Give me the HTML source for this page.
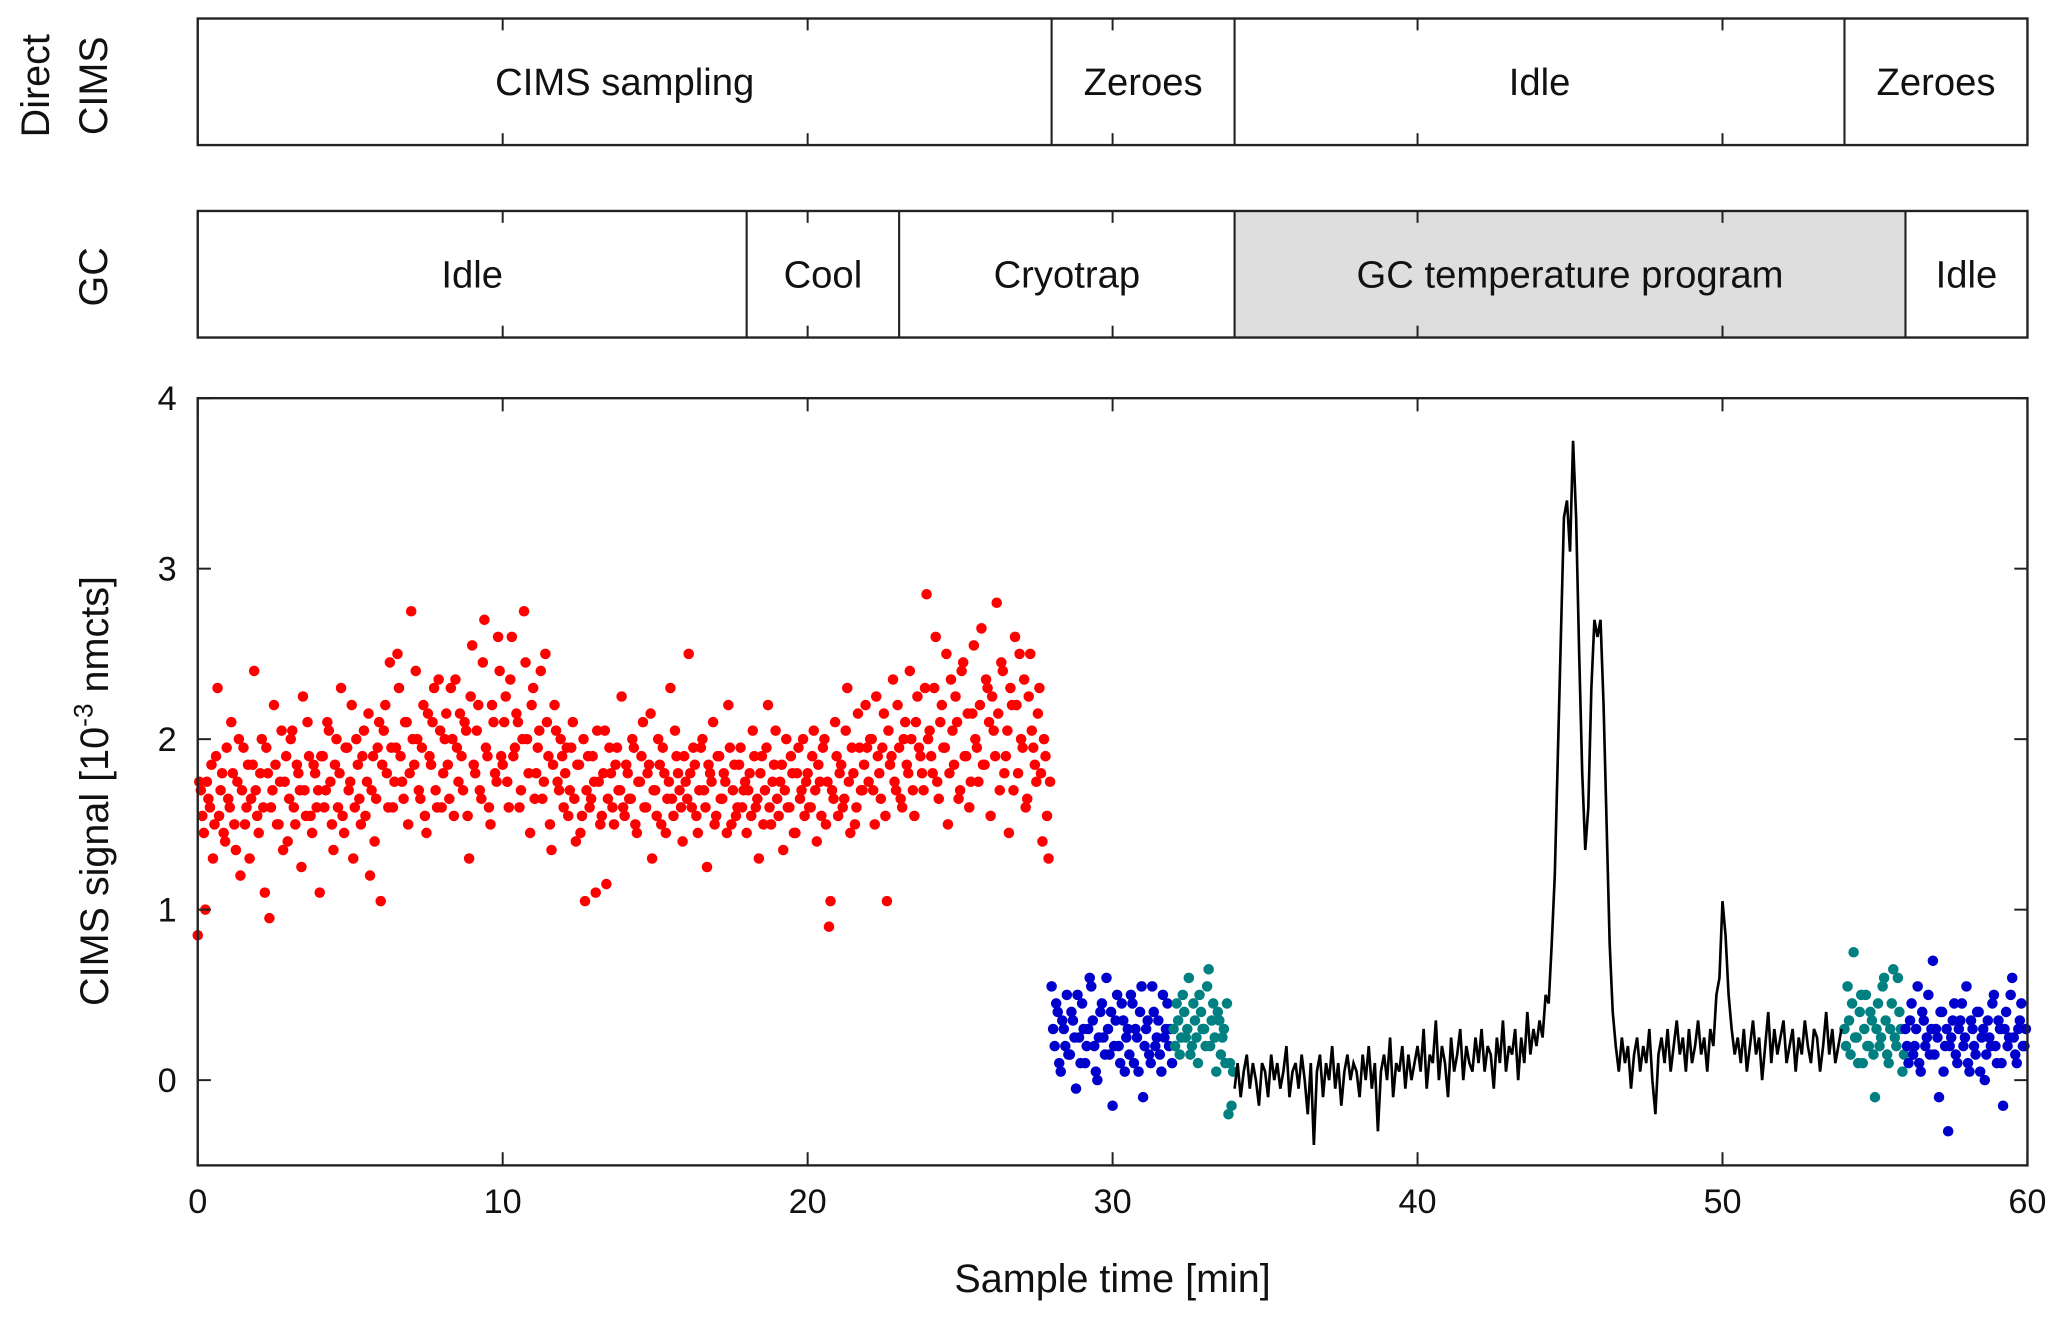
<!DOCTYPE html>
<html><head><meta charset="utf-8"><style>
html,body{margin:0;padding:0;background:#fff}
svg{display:block}
text{font-family:"Liberation Sans",Arial,sans-serif;fill:#111}
</style></head><body>
<svg id="chart" width="2067" height="1321" viewBox="0 0 1568 1002" xmlns="http://www.w3.org/2000/svg">
<g id="panels"></g>
<g id="plot"></g>
</svg>
<script>
// ---- timeline data ----
const cimsPhases = ["CIMS sampling","Zeroes","Idle","Zeroes"];
const cimsBounds = [0,28,34,54,60];
const gcPhases = ["Idle","Cool","Cryotrap","GC temperature program","Idle"];
const gcBounds = [0,18,23,34,56,60];
const gcShaded = [false,false,false,true,false];
// ---- axis ticks ----
const xTicks = [0,10,20,30,40,50,60];
const yTicks = [0,1,2,3,4];
// ---- series ----
const redStart = 0, redStep = 0.1;
const redValues = [
0.85,1.7,1.45,1.75,1.6,1.3,1.9,1.55,1.8,1.4,1.65,2.1,1.5,1.75,1.2,1.95,1.6,1.3,1.85,1.7,
1.45,2.0,1.1,1.8,1.6,2.2,1.5,1.75,1.35,1.9,1.65,2.05,1.5,1.8,1.25,1.7,2.1,1.55,1.85,1.6,
1.1,1.9,1.7,2.05,1.5,1.85,1.6,2.3,1.45,1.95,1.75,1.3,2.0,1.65,1.9,1.55,2.15,1.7,1.4,1.95,
1.05,2.05,1.8,2.45,1.6,1.95,2.3,1.75,2.1,1.5,2.75,1.85,2.0,1.65,2.2,1.45,1.9,2.1,1.7,2.35,
1.6,2.0,1.85,2.3,1.55,1.95,2.15,1.7,2.05,1.3,2.55,1.8,2.2,1.65,2.7,1.9,1.5,2.1,1.75,2.4,
1.85,2.25,1.6,2.6,1.95,2.1,1.7,2.75,2.0,1.45,2.3,1.8,2.05,1.65,2.5,1.9,1.35,2.2,1.75,2.0,
1.6,1.95,1.7,2.1,1.4,1.85,1.55,1.05,1.9,1.65,1.75,2.05,1.5,1.8,1.15,1.95,1.6,1.85,1.7,2.25,
1.55,1.8,1.65,1.95,1.45,1.75,2.1,1.6,1.85,1.3,1.7,2.0,1.5,1.8,1.65,2.3,1.55,1.9,1.7,1.4,
1.75,2.5,1.6,1.85,1.45,1.95,1.7,1.25,1.8,2.1,1.55,1.9,1.65,1.75,2.2,1.5,1.85,1.6,1.95,1.7,
1.45,1.8,2.05,1.6,1.3,1.9,1.7,2.2,1.5,1.85,1.65,1.75,1.35,2.0,1.6,1.8,1.45,1.95,1.7,1.55,
1.8,1.6,2.05,1.4,1.75,1.95,1.5,0.9,1.7,2.1,1.55,1.85,1.65,2.3,1.45,1.8,1.6,1.95,1.7,2.2,
1.75,2.0,1.5,1.9,1.65,2.15,1.05,1.85,2.35,1.7,1.95,1.6,2.1,1.8,2.0,1.55,2.25,1.9,1.7,2.85,
2.05,1.8,2.6,1.65,2.2,1.95,1.5,2.35,1.85,2.1,1.7,2.45,1.9,1.6,2.15,2.0,1.75,2.65,1.85,2.3,
1.55,2.05,2.8,1.7,2.4,1.9,1.45,2.2,2.6,1.8,2.0,2.35,1.65,2.5,1.95,1.75,2.3,1.4,1.9,1.3];
const redBStart = 0.05, redBStep = 0.1;
const redBValues = [
1.75,1.55,1.0,1.65,1.85,1.5,2.3,1.7,1.45,1.95,1.6,1.8,1.35,2.0,1.7,1.5,1.85,1.65,2.4,1.55,
1.8,1.6,1.95,0.95,1.7,1.85,1.5,2.05,1.75,1.4,2.0,1.6,1.85,1.7,2.25,1.55,1.9,1.45,1.8,1.7,
1.9,1.6,2.1,1.75,1.35,2.0,1.8,1.55,1.95,1.7,2.2,1.6,1.85,1.5,2.05,1.75,1.2,1.9,1.65,2.1,
1.85,2.2,1.6,1.95,1.75,2.5,1.9,1.65,2.1,1.8,2.0,2.4,1.7,1.95,1.55,2.15,1.85,2.3,1.6,2.05,
1.8,2.15,1.65,2.0,2.35,1.75,1.9,2.1,1.55,2.25,1.85,2.05,1.7,2.45,1.95,1.6,2.2,1.8,2.6,1.9,
2.1,1.75,2.35,1.9,2.15,1.6,2.0,2.45,1.8,2.2,1.65,1.95,2.4,1.75,2.1,1.5,1.85,2.05,1.7,1.9,
1.8,1.55,1.95,1.65,1.85,1.45,2.0,1.7,1.6,1.9,1.1,1.75,1.55,2.05,1.65,1.8,1.5,1.95,1.7,1.6,
1.85,1.65,2.0,1.5,1.75,1.9,1.6,1.8,2.15,1.7,1.55,1.85,1.95,1.45,1.75,1.65,2.05,1.8,1.6,1.9,
1.65,1.8,1.95,1.55,1.7,2.0,1.6,1.85,1.75,1.5,1.9,1.65,1.8,1.45,1.95,1.7,1.55,1.85,1.6,1.75,
1.7,1.55,1.9,1.65,1.8,1.5,1.95,1.6,1.75,2.05,1.55,1.85,1.7,1.6,1.9,1.45,1.8,1.65,2.0,1.75,
1.6,1.9,1.7,1.85,1.55,2.0,1.75,1.05,1.65,1.9,1.8,1.6,2.05,1.75,1.95,1.5,2.15,1.7,1.85,1.95,
2.0,1.7,2.25,1.8,1.95,1.55,2.05,1.9,1.75,2.2,1.65,2.0,1.85,2.4,1.7,2.1,1.95,1.8,2.3,2.0,
1.9,2.3,1.75,2.1,1.95,2.5,1.8,2.05,2.25,1.65,2.4,1.9,2.15,1.75,2.55,1.95,2.2,1.85,2.35,2.1,
2.25,1.9,2.15,2.45,1.8,2.05,2.3,1.7,2.2,2.5,1.95,1.6,2.25,2.05,1.85,2.15,1.8,2.0,1.55,1.75];
const blue1Start = 28, blue1Step = 0.1;
const blue1Values = [0.55,0.2,0.4,0.05,0.3,0.5,0.15,0.35,-0.05,0.25,0.45,0.1,0.3,0.55,0.2,0.0,0.4,0.25,0.6,0.15,-0.15,0.35,0.2,0.45,0.05,0.3,0.5,0.1,0.25,0.4,-0.1,0.3,0.15,0.55,0.2,0.35,0.05,0.25,0.45,0.3];
const blue1BStart = 28.05, blue1BStep = 0.1;
const blue1BValues = [0.3,0.45,0.1,0.35,0.2,0.15,0.4,0.25,0.5,0.1,0.3,0.2,0.6,0.35,0.05,0.25,0.45,0.15,0.3,0.4,0.2,0.5,0.1,0.35,0.25,0.15,0.45,0.3,0.05,0.55,0.2,0.35,0.1,0.4,0.25,0.15,0.5,0.3,0.2,0.1];
const teal1Start = 32, teal1Step = 0.1;
const teal1Values = [0.3,0.45,0.15,0.5,0.25,0.6,0.2,0.35,0.1,0.4,0.3,0.55,0.2,0.45,0.05,0.35,0.25,0.1,-0.2,-0.15];
const teal1BStart = 32.05, teal1BStep = 0.1;
const teal1BValues = [0.2,0.35,0.25,0.4,0.3,0.15,0.45,0.25,0.5,0.3,0.2,0.65,0.35,0.25,0.4,0.15,0.3,0.45,0.1,0.05];
const lineStart = 34, lineStep = 0.1;
const lineValues = [
-0.05,0.1,-0.1,0.05,0.15,-0.05,0.1,0.0,-0.15,0.1,0.05,-0.1,0.15,0.0,0.1,-0.05,0.05,0.2,-0.1,0.05,
0.1,-0.05,0.15,0.0,-0.2,0.1,-0.38,0.05,0.15,-0.1,0.1,0.0,0.2,-0.05,0.1,-0.15,0.05,0.15,0.0,0.1,
0.05,-0.1,0.15,0.0,0.2,-0.05,0.1,-0.3,0.05,0.15,0.0,0.25,-0.1,0.1,0.05,0.2,-0.05,0.15,0.0,0.1,
0.2,0.05,0.3,-0.05,0.15,0.1,0.35,0.0,0.2,0.1,-0.1,0.25,0.05,0.15,0.3,0.0,0.2,0.1,0.05,0.25,
0.1,0.3,0.05,0.2,0.15,-0.05,0.25,0.1,0.35,0.05,0.2,0.15,0.3,0.0,0.25,0.1,0.4,0.15,0.3,0.2,
0.35,0.25,0.5,0.45,0.8,1.2,1.9,2.6,3.3,3.4,3.1,3.75,3.3,2.5,1.8,1.35,1.6,2.3,2.7,2.6,
2.7,2.2,1.5,0.8,0.4,0.2,0.05,0.25,0.1,0.2,-0.05,0.15,0.25,0.05,0.2,0.1,0.3,0.0,-0.2,0.15,
0.25,0.1,0.3,0.05,0.2,0.35,0.15,0.25,0.05,0.3,0.1,0.2,0.35,0.15,0.25,0.05,0.3,0.2,0.5,0.6,
1.05,0.85,0.5,0.3,0.15,0.25,0.1,0.3,0.05,0.2,0.35,0.15,0.25,0.0,0.2,0.4,0.1,0.3,0.15,0.25,
0.35,0.1,0.2,0.3,0.05,0.25,0.15,0.35,0.2,0.1,0.3,0.25,0.05,0.2,0.4,0.15,0.3,0.1,0.2,0.3];
const teal2Start = 54, teal2Step = 0.1;
const teal2Values = [0.3,0.55,0.15,0.75,0.25,0.4,0.1,0.5,0.2,0.35,-0.1,0.45,0.25,0.6,0.15,0.3,0.65,0.2,0.4,0.05];
const teal2BStart = 54.05, teal2BStep = 0.1;
const teal2BValues = [0.2,0.35,0.45,0.25,0.1,0.5,0.3,0.2,0.4,0.15,0.3,0.2,0.55,0.35,0.1,0.45,0.25,0.6,0.3,0.15];
const blue2Start = 56, blue2Step = 0.1;
const blue2Values = [0.3,0.1,0.45,0.2,0.55,0.05,0.35,0.25,0.15,0.7,0.3,-0.1,0.4,0.2,-0.3,0.25,0.45,0.1,0.35,0.2,0.55,0.05,0.3,0.15,0.4,0.25,0.0,0.35,0.2,0.5,0.1,0.3,-0.15,0.4,0.25,0.6,0.15,0.3,0.45,0.2];
const blue2BStart = 56.05, blue2BStep = 0.1;
const blue2BValues = [0.2,0.35,0.15,0.3,0.1,0.4,0.2,0.5,0.3,0.15,0.25,0.4,0.05,0.3,0.2,0.35,0.15,0.3,0.45,0.25,0.1,0.35,0.2,0.4,0.05,0.3,0.15,0.25,0.45,0.2,0.35,0.1,0.3,0.2,0.5,0.25,0.1,0.35,0.2,0.3];

const NS="http://www.w3.org/2000/svg";
const L=150,R=1538,T=302,B=884;
const xMin=0,xMax=60,yMin=-0.5,yMax=4;
const X=v=>L+(v-xMin)/(xMax-xMin)*(R-L);
const Y=v=>B-(v-yMin)/(yMax-yMin)*(B-T);
function mk(tag,attrs,parent){const e=document.createElementNS(NS,tag);for(const k in attrs)e.setAttribute(k,attrs[k]);parent.appendChild(e);return e;}
const panels=document.getElementById('panels');
const plot=document.getElementById('plot');

function drawPanel(bounds,phases,shaded,top,bot,name){
  const g=mk('g',{},panels);
  
  
  for(let i=0;i<phases.length;i++){
    const x0=X(bounds[i]),x1=X(bounds[i+1]);
    const r=mk('rect',{x:x0,y:top,width:x1-x0,height:bot-top,fill:(shaded&&shaded[i])?'#dedede':'#fff',stroke:'none'},g);
    
    
    const t=mk('text',{x:(x0+x1)/2,y:(top+bot)/2+10,'text-anchor':'middle','font-size':29},g);
    t.textContent=phases[i];
    
    
  }
  xTicks.forEach(v=>{if(v>xMin&&v<xMax){mk('line',{x1:X(v),x2:X(v),y1:top,y2:top+9,stroke:'#222','stroke-width':1.5},g);mk('line',{x1:X(v),x2:X(v),y1:bot,y2:bot-9,stroke:'#222','stroke-width':1.5},g);}});
  for(let i=1;i<bounds.length-1;i++) mk('line',{x1:X(bounds[i]),x2:X(bounds[i]),y1:top,y2:bot,stroke:'#222','stroke-width':1.6},g);
  mk('rect',{x:L,y:top,width:R-L,height:bot-top,fill:'none',stroke:'#222','stroke-width':1.8},g);
}
drawPanel(cimsBounds,cimsPhases,null,14,110,'direct-cims-panel');
drawPanel(gcBounds,gcPhases,gcShaded,160,256,'gc-panel');

let t=mk('text',{transform:'translate(37,65) rotate(-90)','text-anchor':'middle','font-size':30},panels);t.textContent='Direct';

t=mk('text',{transform:'translate(81,65) rotate(-90)','text-anchor':'middle','font-size':30},panels);t.textContent='CIMS';

t=mk('text',{transform:'translate(81,210) rotate(-90)','text-anchor':'middle','font-size':30},panels);t.textContent='GC';


// series
function scatter(start,step,vals,color,name){
  const g=mk('g',{fill:color},plot);
  
  
  vals.forEach((v,i)=>{const c=mk('circle',{cx:X(start+i*step),cy:Y(v),r:4},g);
    
    });
}
scatter(redStart,redStep,redValues,'#ff0000','red-sampling-series');
scatter(redBStart,redBStep,redBValues,'#ff0000','red-sampling-series-b');
scatter(blue1Start,blue1Step,blue1Values,'#0000cc','blue-zero-series-1');
scatter(blue1BStart,blue1BStep,blue1BValues,'#0000cc','blue-zero-series-1b');
scatter(teal1Start,teal1Step,teal1Values,'#008080','teal-zero-series-1');
scatter(teal1BStart,teal1BStep,teal1BValues,'#008080','teal-zero-series-1b');
scatter(teal2Start,teal2Step,teal2Values,'#008080','teal-zero-series-2');
scatter(teal2BStart,teal2BStep,teal2BValues,'#008080','teal-zero-series-2b');
scatter(blue2Start,blue2Step,blue2Values,'#0000cc','blue-zero-series-2');
scatter(blue2BStart,blue2BStep,blue2BValues,'#0000cc','blue-zero-series-2b');
const pth=mk('polyline',{points:lineValues.map((v,i)=>X(lineStart+i*lineStep)+','+Y(v)).join(' '),fill:'none',stroke:'#000','stroke-width':2},plot);



// axes
const ax=mk('rect',{x:L,y:T,width:R-L,height:B-T,fill:'none',stroke:'#222','stroke-width':1.8},plot);

xTicks.forEach(v=>{
  mk('line',{x1:X(v),x2:X(v),y1:B,y2:B-10,stroke:'#222','stroke-width':1.5},plot);
  mk('line',{x1:X(v),x2:X(v),y1:T,y2:T+10,stroke:'#222','stroke-width':1.5},plot);
  const tx=mk('text',{x:X(v),y:B+36,'text-anchor':'middle','font-size':26},plot);tx.textContent=v;
  
});
yTicks.forEach(v=>{
  mk('line',{x1:L,x2:L+10,y1:Y(v),y2:Y(v),stroke:'#222','stroke-width':1.5},plot);
  mk('line',{x1:R,x2:R-10,y1:Y(v),y2:Y(v),stroke:'#222','stroke-width':1.5},plot);
  const ty=mk('text',{x:L-16,y:Y(v)+9,'text-anchor':'end','font-size':26},plot);ty.textContent=v;
  
});
const xl=mk('text',{x:(L+R)/2,y:980,'text-anchor':'middle','font-size':30},plot);xl.textContent='Sample time [min]';

const yl=mk('text',{transform:'translate(82,600) rotate(-90)','text-anchor':'middle','font-size':30},plot);

yl.innerHTML='CIMS signal [10<tspan dy="-12" font-size="20">-3</tspan><tspan dy="12"> nmcts]</tspan>';
</script>
</body></html>
